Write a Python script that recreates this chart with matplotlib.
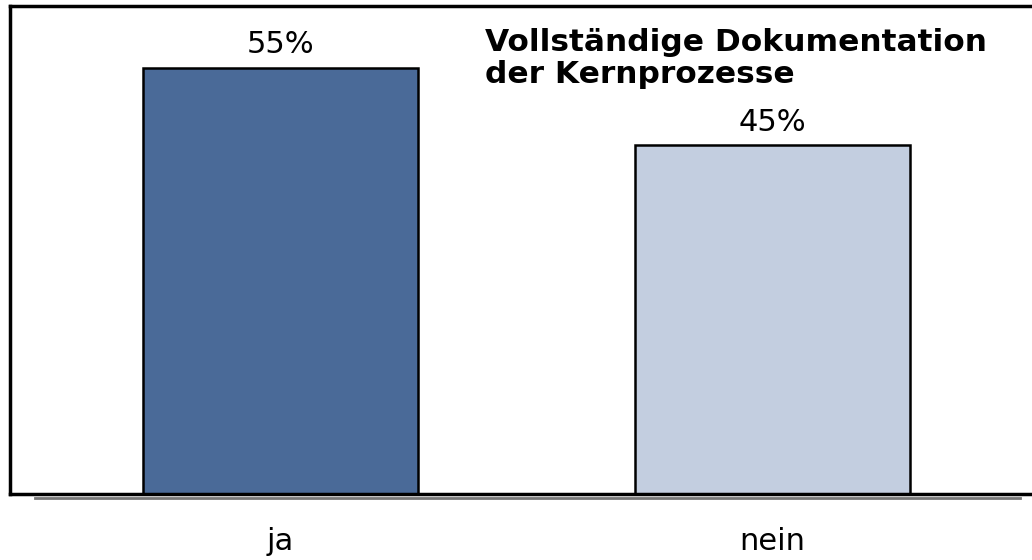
import matplotlib.pyplot as plt
from matplotlib.lines import Line2D

# Data
categories = ['ja', 'nein']
values = [55, 45]
labels = ['55%', '45%']
colors = ['#4a6a98', '#c3cee0']
title = 'Vollständige Dokumentation\nder Kernprozesse'

fig = plt.figure(figsize=(10.32, 5.6), dpi=100)
ax = fig.add_axes([10 / 1032, 66 / 560, 1032 / 1032, 488 / 560])

x = list(range(len(categories)))
ax.bar(x, values, width=0.559, color=colors, edgecolor='black', linewidth=1.8, zorder=2)
ax.set_xlim(-0.5498, 1.548)
ax.set_ylim(0, 63.0)

for xi, v, lab in zip(x, values, labels):
    ax.text(xi, v + 1.1, lab, ha='center', va='bottom', fontsize=22)

for xi, cat in zip(x, categories):
    ax.text(xi, -7.2, cat, ha='center', va='baseline', fontsize=22, clip_on=False)

ax.text(0.4605, 0.955, title, transform=ax.transAxes, ha='left', va='top',
        fontsize=22.5, fontweight='bold', linespacing=1.14)

ax.set_xticks([])
ax.set_yticks([])
for s in ax.spines.values():
    s.set_linewidth(2.5)
    s.set_color('black')

# gray baseline below the frame
fig.add_artist(Line2D([35 / 1032, 1020 / 1032], [62 / 560, 62 / 560],
                      color='#777777', linewidth=2))

fig.savefig('out.png', dpi=100)
